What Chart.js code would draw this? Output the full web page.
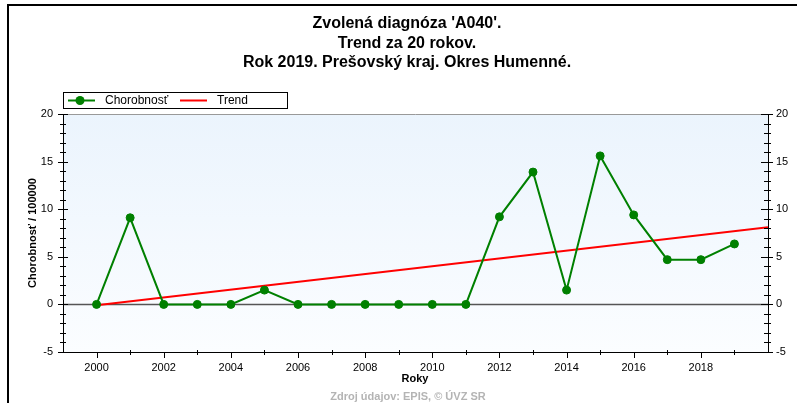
<!DOCTYPE html>
<html>
<head>
<meta charset="utf-8">
<script src="https://cdn.jsdelivr.net/npm/chart.js@4.4.0/dist/chart.umd.min.js"></script>
<style>
  body { margin: 0; background: #fff; }
  canvas { display: block; }
</style>
</head>
<body>
<canvas id="trendChart" width="797" height="403"></canvas>
<script>
// Data
const years = [2000, 2001, 2002, 2003, 2004, 2005, 2006, 2007, 2008, 2009,
               2010, 2011, 2012, 2013, 2014, 2015, 2016, 2017, 2018, 2019];
const incidence = [0, 9.1, 0, 0, 0, 1.5, 0, 0, 0, 0,
                   0, 0, 9.2, 13.9, 1.5, 15.6, 9.4, 4.7, 4.7, 6.35];
const trendYears = [2000, 2020];
const trendValues = [-0.1, 8.1];
const seriesNames = ['Chorobnosť', 'Trend'];
const xTickLabels = [2000, 2002, 2004, 2006, 2008, 2010, 2012, 2014, 2016, 2018];
const yTickLabels = [-5, 0, 5, 10, 15, 20];
const titleLines = ["Zvolená diagnóza 'A040'.", 'Trend za 20 rokov.', 'Rok 2019. Prešovský kraj. Okres Humenné.'];
const yAxisTitle = 'Chorobnosť / 100000';
const xAxisTitle = 'Roky';
const sourceText = 'Zdroj údajov: EPIS, © ÚVZ SR';

const FONT = '"Liberation Sans", Arial, sans-serif';

// Background, frame, title, legend, axis titles and custom ticks
const decorPlugin = {
    id: 'decor',
    beforeDraw(chart) {
        const ctx = chart.ctx;
        const a = chart.chartArea;
        ctx.save();
        ctx.fillStyle = '#fff';
        ctx.fillRect(0, 0, chart.width, chart.height);
        const grad = ctx.createLinearGradient(0, a.top, 0, a.bottom);
        grad.addColorStop(0, '#ebf4fd');
        grad.addColorStop(1, '#fbfdff');
        ctx.fillStyle = grad;
        ctx.fillRect(a.left, a.top, a.right - a.left, a.bottom - a.top);

        // outer frame (top and left)
        ctx.strokeStyle = '#000';
        ctx.lineWidth = 2;
        ctx.beginPath();
        ctx.moveTo(8, chart.height);
        ctx.lineTo(8, 5);
        ctx.lineTo(chart.width, 5);
        ctx.stroke();

        // top border of plot
        ctx.strokeStyle = '#999';
        ctx.lineWidth = 1;
        ctx.beginPath();
        ctx.moveTo(a.left, a.top + 0.5);
        ctx.lineTo(a.right, a.top + 0.5);
        ctx.stroke();

        // zero line
        const y0 = chart.scales.y.getPixelForValue(0);
        ctx.strokeStyle = '#555';
        ctx.lineWidth = 1.5;
        ctx.beginPath();
        ctx.moveTo(a.left, y0);
        ctx.lineTo(a.right, y0);
        ctx.stroke();
        ctx.restore();
    },
    afterDraw(chart) {
        const ctx = chart.ctx;
        const a = chart.chartArea;
        const ys = chart.scales.y;
        const xs = chart.scales.x;
        ctx.save();

        // y ticks on both axes (crossing the axis line)
        ctx.strokeStyle = '#000';
        ctx.lineWidth = 1;
        for (let v = -5; v <= 20; v++) {
            const py = Math.round(ys.getPixelForValue(v)) + 0.5;
            const major = v % 5 === 0;
            ctx.beginPath();
            ctx.moveTo(a.left - (major ? 5 : 3), py);
            ctx.lineTo(a.left + (major ? 5 : 3), py);
            ctx.moveTo(a.right - (major ? 7 : 4), py);
            ctx.lineTo(a.right + (major ? 5 : 3), py);
            ctx.stroke();
        }
        // x ticks every year
        for (let yr = 2000; yr <= 2019; yr++) {
            const px = Math.round(xs.getPixelForValue(yr)) + 0.5;
            const major = yr % 2 === 0;
            ctx.beginPath();
            ctx.moveTo(px, a.bottom - (major ? 0 : 2));
            ctx.lineTo(px, a.bottom + (major ? 6 : 3));
            ctx.stroke();
        }

        // title
        ctx.fillStyle = '#000';
        ctx.textAlign = 'center';
        ctx.textBaseline = 'middle';
        ctx.font = 'bold 16px ' + FONT;
        titleLines.forEach((t, i) => ctx.fillText(t, 407, 24 + i * 19.5));

        // legend
        ctx.strokeStyle = '#000';
        ctx.lineWidth = 1;
        ctx.strokeRect(63.5, 92.5, 224, 16);
        const ds = chart.data.datasets;
        ctx.font = '12px ' + FONT;
        ctx.textAlign = 'left';
        const legendItems = [
            { x: 68, ds: ds[0], text: seriesNames[0], dot: true },
            { x: 180, ds: ds[1], text: seriesNames[1], dot: false }
        ];
        legendItems.forEach(it => {
            ctx.strokeStyle = it.ds.borderColor;
            ctx.lineWidth = 2;
            ctx.beginPath();
            ctx.moveTo(it.x, 100.5);
            ctx.lineTo(it.x + 27, 100.5);
            ctx.stroke();
            if (it.dot) {
                ctx.fillStyle = it.ds.pointBackgroundColor;
                ctx.beginPath();
                ctx.arc(it.x + 12, 100.5, 4.5, 0, Math.PI * 2);
                ctx.fill();
            }
            ctx.fillStyle = '#000';
            ctx.fillText(it.text, it.x + 37, 101);
        });

        // axis titles
        ctx.font = 'bold 11px ' + FONT;
        ctx.textAlign = 'center';
        ctx.fillText(xAxisTitle, 415, 379);
        ctx.save();
        ctx.translate(33, (a.top + a.bottom) / 2);
        ctx.rotate(-Math.PI / 2);
        ctx.fillText(yAxisTitle, 0, 0);
        ctx.restore();

        // source
        ctx.fillStyle = '#b4b4b4';
        ctx.font = 'bold 11px ' + FONT;
        ctx.fillText(sourceText, 408, 397);
        ctx.restore();
    }
};

const ctx = document.getElementById('trendChart').getContext('2d');
const chart = new Chart(ctx, {
    type: 'line',
    data: {
        datasets: [{
            label: seriesNames[0],
            data: years.map((yr, i) => ({ x: yr, y: incidence[i] })),
            borderColor: '#008000',
            backgroundColor: '#008000',
            pointBackgroundColor: '#008000',
            pointBorderColor: '#008000',
            borderWidth: 2,
            pointRadius: 4,
            pointBorderWidth: 1,
            tension: 0,
            order: 1
        }, {
            label: seriesNames[1],
            data: trendYears.map((yr, i) => ({ x: yr, y: trendValues[i] })),
            borderColor: '#ff0000',
            backgroundColor: '#ff0000',
            borderWidth: 2,
            pointRadius: 0,
            tension: 0,
            order: 2
        }]
    },
    options: {
        responsive: false,
        animation: false,
        layout: { padding: { top: 114, left: 0, right: 0, bottom: 0 } },
        plugins: {
            legend: { display: false },
            title: { display: false },
            tooltip: { enabled: false }
        },
        scales: {
            x: {
                type: 'linear',
                min: 1999,
                max: 2020,
                afterBuildTicks: s => { s.ticks = xTickLabels.map(v => ({ value: v })); },
                afterFit: s => { s.height = 51; },
                grid: { display: false, drawTicks: false },
                border: { color: '#000', width: 1 },
                ticks: {
                    autoSkip: false,
                    maxRotation: 0,
                    padding: 9,
                    color: '#000',
                    font: { family: FONT, size: 11 },
                    callback: v => String(v)
                }
            },
            y: {
                position: 'left',
                min: -5,
                max: 20,
                afterBuildTicks: s => { s.ticks = yTickLabels.map(v => ({ value: v })); },
                afterFit: s => { s.width = 63; },
                grid: { display: false, drawTicks: false },
                border: { color: '#000', width: 1 },
                ticks: {
                    autoSkip: false,
                    padding: 10,
                    color: '#000',
                    font: { family: FONT, size: 11 },
                    callback: v => String(v)
                }
            },
            y2: {
                position: 'right',
                min: -5,
                max: 20,
                afterBuildTicks: s => { s.ticks = yTickLabels.map(v => ({ value: v })); },
                afterFit: s => { s.width = 29; },
                grid: { display: false, drawTicks: false },
                border: { color: '#000', width: 1 },
                ticks: {
                    autoSkip: false,
                    padding: 8,
                    color: '#000',
                    font: { family: FONT, size: 11 },
                    callback: v => String(v)
                }
            }
        }
    },
    plugins: [decorPlugin]
});
</script>
</body>
</html>
